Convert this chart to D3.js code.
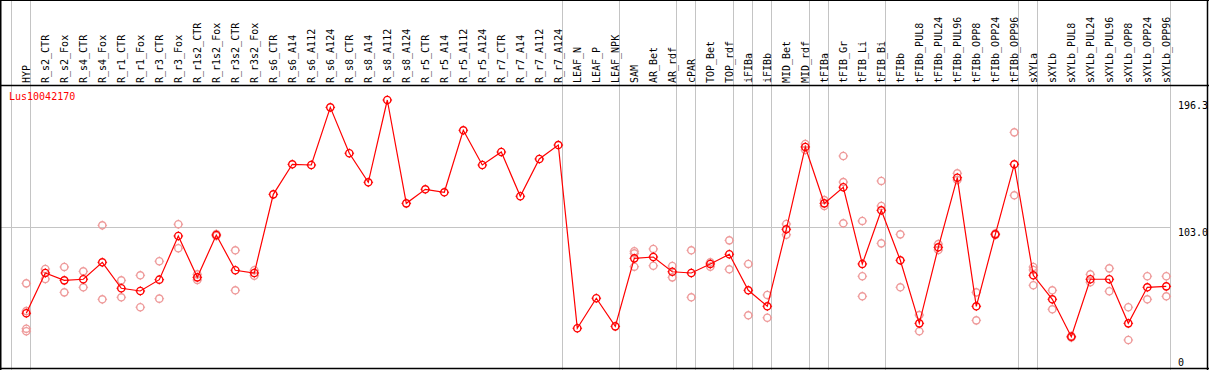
<!DOCTYPE html>
<html>
<head>
<meta charset="utf-8">
<script src="https://cdn.jsdelivr.net/npm/d3@7"></script>
<style>
  body { margin: 0; background: #fff; }
  text { font-family: "DejaVu Sans Mono", monospace; font-size: 10px; }
</style>
</head>
<body>
<div id="chart"></div>
<script>
var seriesName = "Lus10042170";

var categories = ["HYP", "R_s2_CTR", "R_s2_Fox", "R_s4_CTR", "R_s4_Fox", "R_r1_CTR", "R_r1_Fox",
  "R_r3_CTR", "R_r3_Fox", "R_r1s2_CTR", "R_r1s2_Fox", "R_r3s2_CTR", "R_r3s2_Fox", "R_s6_CTR",
  "R_s6_A14", "R_s6_A112", "R_s6_A124", "R_s8_CTR", "R_s8_A14", "R_s8_A112", "R_s8_A124",
  "R_r5_CTR", "R_r5_A14", "R_r5_A112", "R_r5_A124", "R_r7_CTR", "R_r7_A14", "R_r7_A112",
  "R_r7_A124", "LEAF_N", "LEAF_P", "LEAF_NPK", "SAM", "AR_Bet", "AR_rdf", "cPAR", "TOP_Bet",
  "TOP_rdf", "iFIBa", "iFIBb", "MID_Bet", "MID_rdf", "tFIBa", "tFIB_Gr", "tFIB_Li", "tFIB_Bi",
  "tFIBb", "tFIBb_PUL8", "tFIBb_PUL24", "tFIBb_PUL96", "tFIBb_OPP8", "tFIBb_OPP24",
  "tFIBb_OPP96", "sXYLa", "sXYLb", "sXYLb_PUL8", "sXYLb_PUL24", "sXYLb_PUL96", "sXYLb_OPP8",
  "sXYLb_OPP24", "sXYLb_OPP96"];

// mean expression per sample
var means = [40.1, 69.6, 64.2, 65.0, 77.4, 58.4, 56.4, 64.7, 96.7, 66.4, 97.4, 71.6, 69.6,
  127.2, 149.2, 148.7, 190.9, 157.3, 136.0, 196.3, 120.6, 130.9, 128.7, 174.1, 148.7, 158.2,
  125.8, 153.1, 163.3, 29.1, 51.1, 30.5, 80.3, 81.3, 70.5, 69.6, 76.2, 83.3, 56.9, 45.2,
  101.6, 161.9, 120.6, 132.4, 76.2, 115.5, 78.9, 32.7, 88.4, 139.4, 45.2, 97.9, 149.2,
  67.9, 50.3, 22.9, 65.0, 65.0, 32.7, 59.1, 59.8];

// individual replicates (none shown for some samples)
var replicates = [
  [62.0, 41.7, 28.8, 26.9], [72.5, 65.2], [74.0, 55.4], [70.8, 59.1], [104.5, 50.3],
  [64.2, 51.8], [67.9, 44.5], [78.2, 50.8], [105.3, 87.7], [68.6, 64.5], [98.1, 96.7],
  [86.2, 56.9], [71.6, 67.6],
  [], [], [], [], [], [], [], [], [], [], [], [], [], [], [], [], [], [], [],
  [85.5, 84.0, 74.2], [87.2, 74.9], [74.7, 66.4], [86.2, 51.8], [77.4, 74.2], [93.5, 72.3],
  [76.2, 38.6], [53.5, 36.8], [105.5, 97.6], [164.1, 159.7], [123.0, 118.7],
  [155.3, 136.2, 106.0], [107.7, 67.2, 52.5], [137.0, 118.7, 91.3], [97.9, 59.1],
  [38.8, 26.9], [90.8, 86.4], [142.6, 137.7], [55.4, 34.9], [98.5, 97.4], [172.6, 126.5],
  [74.0, 71.8, 60.6], [56.9, 43.0], [23.4, 22.3], [68.6, 62.8], [73.0, 56.2], [44.5, 20.5],
  [67.2, 50.3], [67.2, 52.5]];

// number of samples in each block between the vertical separators
var groupSizes = [1, 28, 3, 3, 1, 2, 1, 1, 2, 1, 3, 7, 1, 7];
var yTicks = [0, 103.0, 196.3];
var yGrid = [103.0];

var width = 1209, height = 370;
var svg = d3.select("#chart").append("svg").attr("width", width).attr("height", height);

var x = d3.scalePoint().domain(categories).range([26.3, 1166.3]);
var step = x.step();
var y = d3.scaleLinear().domain([0, 196.3]).range([368, 100]);

// vertical separators
var breaks = [-1];
groupSizes.reduce(function (acc, n) { breaks.push(acc + n - 1); return acc + n; }, 0);
svg.selectAll("line.vgrid").data(breaks).enter().append("line")
    .attr("class", "vgrid")
    .attr("x1", function (k) { return Math.round(x(categories[0]) + k * step + 4) + 0.5; })
    .attr("x2", function (k) { return Math.round(x(categories[0]) + k * step + 4) + 0.5; })
    .attr("y1", 0).attr("y2", height)
    .attr("stroke", "#c4c4c4").attr("stroke-width", 1);

// horizontal gridline
var lastBreak = Math.round(x(categories[categories.length - 1]) + 4) + 0.5;
svg.selectAll("line.hgrid").data(yGrid).enter().append("line")
    .attr("x1", 0).attr("x2", lastBreak)
    .attr("y1", function (d) { return Math.round(y(d)) + 0.5; })
    .attr("y2", function (d) { return Math.round(y(d)) + 0.5; })
    .attr("stroke", "#c4c4c4").attr("stroke-width", 1);

// column labels
svg.selectAll("text.cat").data(categories).enter().append("text")
    .attr("class", "cat")
    .attr("transform", function (d) { return "translate(" + x(d) + ",83) rotate(-90)"; })
    .attr("dy", "0.35em")
    .attr("fill", "#000")
    .text(function (d) { return d; });

// right axis labels
svg.selectAll("text.ytick").data(yTicks).enter().append("text")
    .attr("class", "ytick")
    .attr("x", 1178)
    .attr("y", function (d) { return Math.min(y(d) + 9, 366); })
    .attr("fill", "#000")
    .text(function (d) { return d === 0 ? "0" : d.toFixed(1); });

// frame
var frame = svg.append("g").attr("stroke", "#000");
frame.append("line").attr("x1", 0).attr("x2", width).attr("y1", 0.5).attr("y2", 0.5);
frame.append("line").attr("x1", 0).attr("x2", width).attr("y1", 85.5).attr("y2", 85.5).attr("stroke-width", 1.5);
frame.append("line").attr("x1", 0).attr("x2", width).attr("y1", 368.5).attr("y2", 368.5).attr("stroke-width", 1.5);
frame.append("line").attr("x1", 0.75).attr("x2", 0.75).attr("y1", 0).attr("y2", height).attr("stroke-width", 1.5);
frame.append("line").attr("x1", 1207.5).attr("x2", 1207.5).attr("y1", 0).attr("y2", height).attr("stroke-width", 1.5);

svg.append("text").attr("x", 9).attr("y", 100).attr("fill", "#ff0000").text(seriesName);

// circle marker with little notches at the four sides
function marker(g, cx, cy, color) {
  var r = 3.6;
  g.append("circle").attr("cx", cx).attr("cy", cy).attr("r", r)
      .attr("fill", "none").attr("stroke", color).attr("stroke-width", 1.4);
  g.append("path")
      .attr("d", "M" + (cx - r - 1.2) + "," + cy + "h1.2M" + (cx + r) + "," + cy + "h1.2" +
                 "M" + cx + "," + (cy - r - 1.2) + "v1.2M" + cx + "," + (cy + r) + "v1.2")
      .attr("stroke", color).attr("stroke-width", 1);
}

var repG = svg.append("g");
replicates.forEach(function (reps, i) {
  reps.forEach(function (v) { marker(repG, x(categories[i]), y(v), "#ee9a9a"); });
});

var line = d3.line()
    .x(function (d, i) { return x(categories[i]); })
    .y(function (d) { return y(d); });
svg.append("path").datum(means)
    .attr("d", line)
    .attr("fill", "none").attr("stroke", "#ff0000").attr("stroke-width", 1.2);

var meanG = svg.append("g");
means.forEach(function (v, i) { marker(meanG, x(categories[i]), y(v), "#ff0000"); });
</script>
</body>
</html>
